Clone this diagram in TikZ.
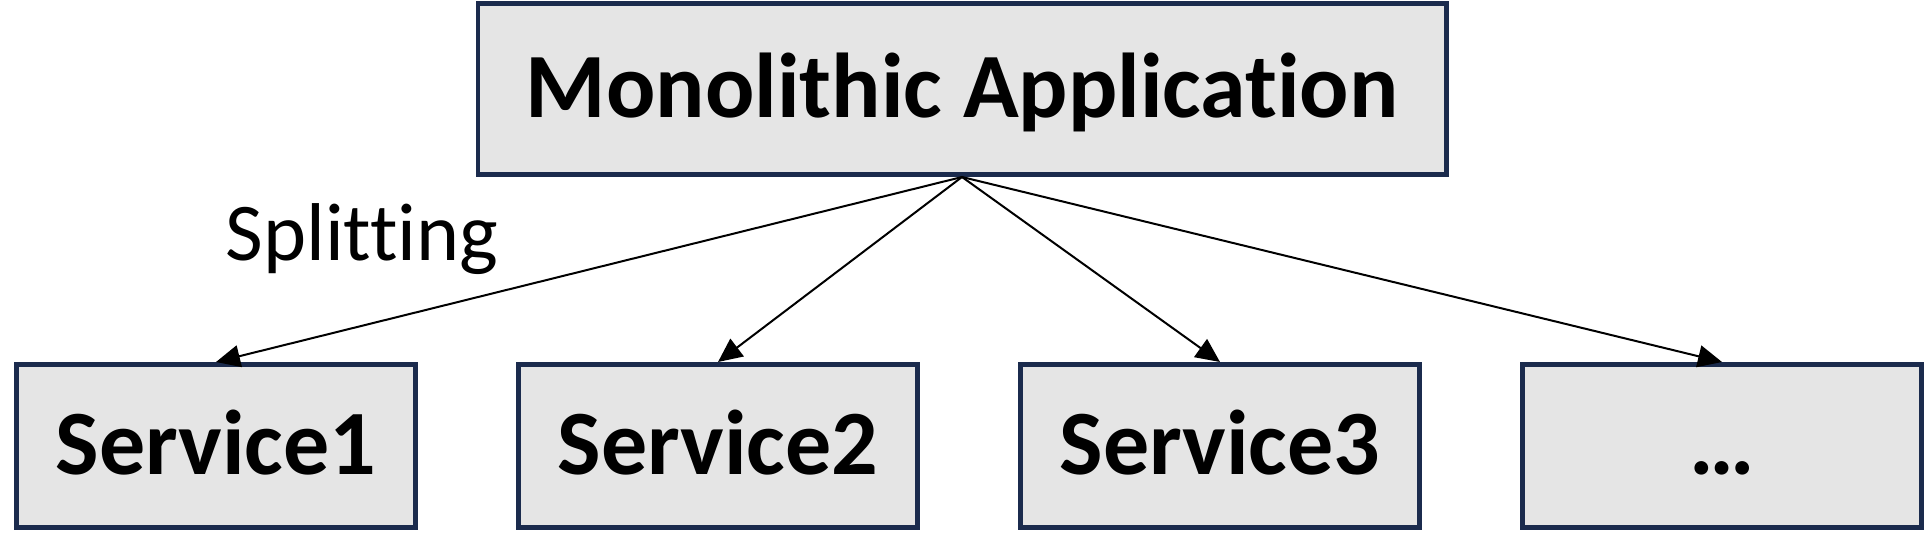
\documentclass[tikz,border=0pt]{standalone}
\usepackage{fontspec}
\setmainfont{Carlito}[Ligatures=NoCommon]
\definecolor{boxborder}{HTML}{1B2B4D}
\definecolor{boxfill}{HTML}{E5E5E5}
\usetikzlibrary{arrows.meta,positioning}

\begin{document}
\begin{tikzpicture}[
  box/.style={rectangle, draw=boxborder, fill=boxfill, line width=2.4pt, minimum width=199.6pt, minimum height=81.6pt, align=center, inner sep=0pt, text height=28.7pt, text depth=0pt, font=\fontsize{46}{54}\selectfont\bfseries},
  split/.style={-{Triangle[length=12pt,width=11pt]}, line width=1pt, black},
  node distance=49pt]
\useasboundingbox (0,0) rectangle (962.5pt,-278pt);
\node[box, minimum width=484.1pt, minimum height=85.6pt] (mono) at (481pt,-44.5pt) {Monolithic Application};
\node[box] (s1) at (108pt,-223pt) {Service1};
\node[box, right=of s1] (s2) {Service2};
\node[box, right=of s2] (s3) {Service3};
\node[box, right=of s3] (more) {…};
\node[anchor=base, font=\fontsize{41}{50}\selectfont] (label) at (181pt,-130pt) {Splitting};
\draw[split] (mono.south) -- (s1.north);
\draw[split] (mono.south) -- (s2.north);
\draw[split] (mono.south) -- (s3.north);
\draw[split] (mono.south) -- (more.north);
\end{tikzpicture}
\end{document}
